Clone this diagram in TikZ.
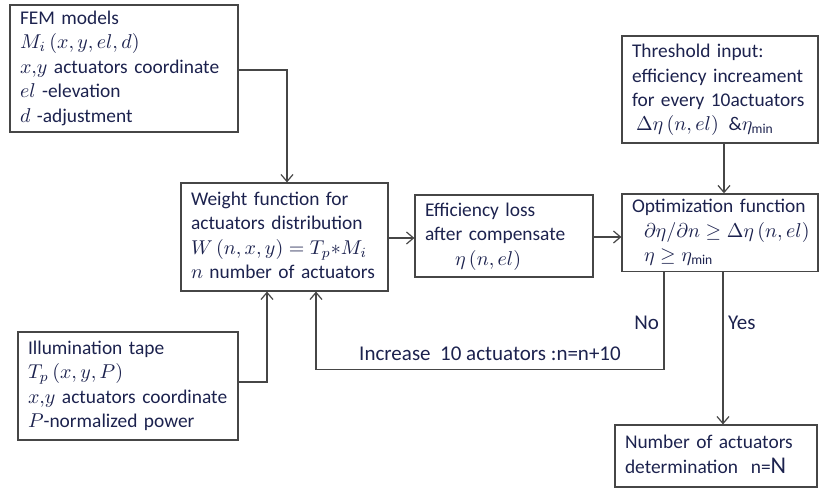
\documentclass[tikz,border=0pt]{standalone}
\usepackage{fontspec}
\setmainfont{Carlito}
\usepackage{tikz}
\usetikzlibrary{positioning}
\usetikzlibrary{arrows.meta}
\usepackage{amssymb}
\usepackage{xcolor}

\definecolor{textnavy}{RGB}{28,34,78}
\definecolor{linegray}{RGB}{70,70,70}

\newcommand{\boxlines}[1]{\begin{tabular}{@{}l@{}}#1\end{tabular}}

\tikzset{
  box/.style={draw=linegray, line width=0.6pt, inner xsep=5pt, inner ysep=1pt,
    align=left, text=textnavy, font=\fontsize{9.7}{12.2}\selectfont},
  flow/.style={draw=linegray, line width=0.6pt, -{Straight Barb[length=3.5pt,width=6pt]}},
  tag/.style={text=textnavy, font=\fontsize{10.5}{12}\selectfont}
}

\begin{document}
\begin{tikzpicture}[x=0.5pt, y=-0.5pt]
\useasboundingbox (0,0) rectangle (819,489);

%%%%%%%%%% Boxes %%%%%%%%
{
\node[box, text width=104pt, minimum height=63.5pt] (fem) at (124,68.5)
  {\boxlines{FEM models\\ $M_i\left(x,y,el,d\right)$\\ $x{,}y$ actuators coordinate\\ $el$ -elevation\\ $d$ -adjustment}};

\node[box, text width=93.5pt, minimum height=54pt] (weight) at (284.5,237)
  {\boxlines{Weight function for\\ actuators distribution\\ $W\left(n,x,y\right)=T_p{*}M_i$\\ $n$ number of actuators}};

\node[box, text width=79pt, minimum height=41pt] (eff) at (504,236)
  {\boxlines{Efficiency loss\\ after compensate\\ \hspace*{15pt}$\eta\left(n,el\right)$}};

\node[box, text width=88pt, minimum height=53.5pt] (thresh) at (720,89.5)
  {\boxlines{Threshold input:\\ efficiency increament\\ for every 10actuators\\ \hspace*{2pt}$\Delta\eta\left(n,el\right)\ \&\eta_{\min}$}};

\node[box, text width=88pt, minimum height=37.5pt] (optim) at (720,232.5)
  {\boxlines{Optimization function\\ \hspace*{6pt}$\partial\eta/\partial n\ge\Delta\eta\left(n,el\right)$\\ \hspace*{6pt}$\eta\ge\eta_{\min}$}};

\node[box, text width=100pt, minimum height=54pt] (illum) at (128,386)
  {\boxlines{Illumination tape\\ $T_p\left(x,y,P\right)$\\ $x{,}y$ actuators coordinate\\ $P$-normalized power}};

\node[box, text width=91pt, minimum height=31pt] (result) at (716,456)
  {\boxlines{Number of actuators\\ determination\ \ n={\large N}}};
}

%%%%%%%%%%%%   Connectors   %%%%%%%%%%%%
{
\draw[flow] ([yshift=-0.75pt]fem.east) -| ([xshift=1.25pt]weight.north);
\draw[flow] ([yshift=2pt]illum.east) -| ([xshift=-8.75pt]weight.south);
\draw[flow] ([yshift=-0.5pt]weight.east) -- ([yshift=-0.5pt]weight.east -| eff.west);
\draw[flow] ([yshift=-0.5pt]eff.east) -- ([yshift=-0.5pt]eff.east -| optim.west);
\draw[flow] ([xshift=2pt]thresh.south) -- ([xshift=2pt]thresh.south |- optim.north);

\draw[flow] ([xshift=-28pt]optim.south) -- ++(0,-49pt)
  -| node[tag, pos=0.25, above=1pt] {Increase\ \ 10 actuators :n=n+10} ([xshift=15.75pt]weight.south);
\draw[flow] ([xshift=1.5pt]optim.south) -- ([xshift=1.5pt]optim.south |- result.north);
}

{
\node[tag, left=-1pt] at (664,323) {No};
\node[tag, right=-1pt] at (723,323) {Yes};
}

\end{tikzpicture}
\end{document}
